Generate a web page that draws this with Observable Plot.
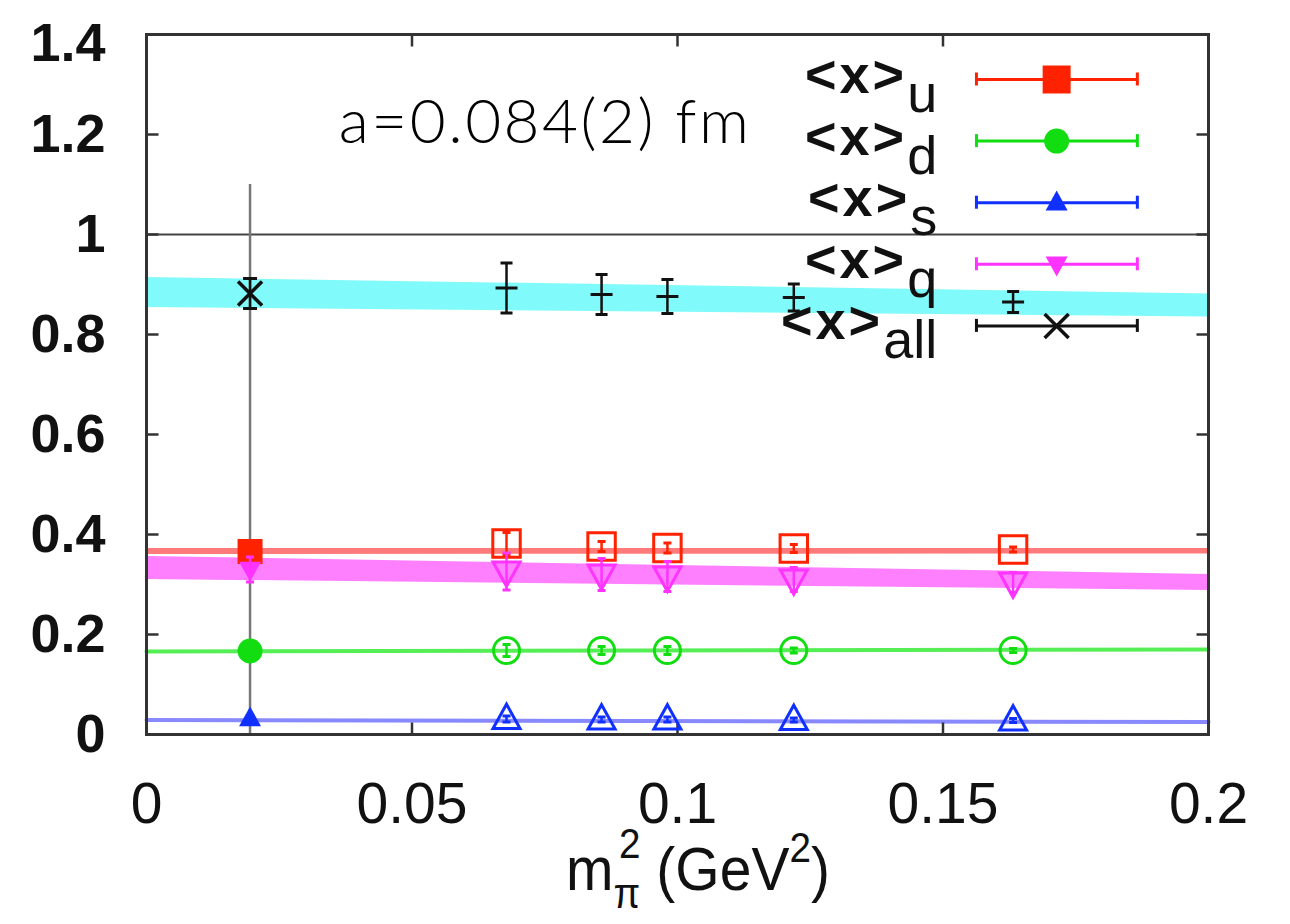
<!DOCTYPE html>
<html><head><meta charset="utf-8">
<script src="https://cdn.jsdelivr.net/npm/d3@7"></script>
<script src="https://cdn.jsdelivr.net/npm/@observablehq/plot@0.6"></script>
<style>
body{margin:0;background:#fff;}
#chart{width:1290px;height:924px;}
</style></head><body><div id="chart"></div>
<script>
// ---------------- data ----------------
const xPhys = 0.0195;
const xs = [0.0678, 0.0857, 0.0981, 0.1219, 0.1632];

const uVals = [0.382, 0.376, 0.373, 0.372, 0.370];
const uErrs = [0.022, 0.010, 0.010, 0.008, 0.005];
const uPhys = 0.366;

const dVals = [0.168, 0.168, 0.168, 0.168, 0.168];
const dErrs = [0.012, 0.008, 0.008, 0.005, 0.004];
const dPhys = 0.167;

const sVals = [0.031, 0.030, 0.030, 0.029, 0.028];
const sErrs = [0.006, 0.005, 0.005, 0.004, 0.004];
const sPhys = 0.032;

const qVals = [0.326, 0.320, 0.316, 0.310, 0.304];
const qErrs = [0.037, 0.032, 0.030, 0.024, 0.020];
const qPhys = 0.330, qPhysErr = 0.025;

const allVals = [0.893, 0.880, 0.876, 0.874, 0.865];
const allErrs = [0.050, 0.040, 0.034, 0.027, 0.021];
const allPhys = 0.882, allPhysErr = 0.030;

// fit curves at x = 0 and x = 0.2 : [low, high]
const fitX = [0, 0.2];
const uFit = [[0.360, 0.372], [0.361, 0.372]];
const dFit = [0.166, 0.170];
const sFit = [0.029, 0.025];
const qFit = [[0.310, 0.356], [0.288, 0.320]];
const allFit = [[0.854, 0.914], [0.835, 0.881]];

const xTicks = [0, 0.05, 0.1, 0.15, 0.2];
const xTickLabels = ["0", "0.05", "0.1", "0.15", "0.2"];
const yTicks = [0, 0.2, 0.4, 0.6, 0.8, 1, 1.2, 1.4];
const yTickLabels = ["0", "0.2", "0.4", "0.6", "0.8", "1", "1.2", "1.4"];

const legendSubs = ["u", "d", "s", "q", "all"];
const annotation = "a=0.084(2) fm";

// ---------------- styles ----------------
const cRed = "#ff2200", cGreen = "#11dd11", cBlue = "#1030ff", cMag = "#ff33ff", cBlack = "#111";

const sym = fn => ({draw(c, size) { const h = Math.sqrt(size / Math.PI); fn(c, h); }});
const symSquare = sym((c, h) => { c.moveTo(-h, -h); c.lineTo(h, -h); c.lineTo(h, h); c.lineTo(-h, h); c.closePath(); });
const symCircle = sym((c, h) => { c.moveTo(h, 0); c.arc(0, 0, h, 0, 2 * Math.PI); });
const symTriUp = sym((c, h) => { c.moveTo(0, -1.1 * h); c.lineTo(h, 0.7 * h); c.lineTo(-h, 0.7 * h); c.closePath(); });
const symTriDown = sym((c, h) => { c.moveTo(0, 1.1 * h); c.lineTo(h, -0.7 * h); c.lineTo(-h, -0.7 * h); c.closePath(); });
const symTimes = sym((c, h) => { c.moveTo(-h, -h); c.lineTo(h, h); c.moveTo(-h, h); c.lineTo(h, -h); });
const symHBar = sym((c, h) => { c.moveTo(-h, 0); c.lineTo(h, 0); });
const tickRight = sym((c, h) => { c.moveTo(0, 0); c.lineTo(2 * h, 0); });
const tickLeft = sym((c, h) => { c.moveTo(0, 0); c.lineTo(-2 * h, 0); });
const tickUp = sym((c, h) => { c.moveTo(0, 0); c.lineTo(0, -2 * h); });
const tickDown = sym((c, h) => { c.moveTo(0, 0); c.lineTo(0, 2 * h); });

const pts = (vals, errs) => xs.map((x, i) => ({x, y: vals[i], lo: vals[i] - errs[i], hi: vals[i] + errs[i]}));
const band = f => fitX.map((x, i) => ({x, lo: f[i][0], hi: f[i][1]}));
const line = f => fitX.map((x, i) => ({x, y: f[i]}));

function errMarks(data, color, capR, midR) {
  const m = [
    Plot.ruleX(data, {x: "x", y1: "lo", y2: "hi", stroke: color, strokeWidth: 2.5}),
    Plot.dot(data, {x: "x", y: "lo", symbol: symHBar, r: capR, stroke: color, strokeWidth: 3}),
    Plot.dot(data, {x: "x", y: "hi", symbol: symHBar, r: capR, stroke: color, strokeWidth: 3})
  ];
  if (midR) m.push(Plot.dot(data, {x: "x", y: "y", symbol: symHBar, r: midR, stroke: color, strokeWidth: 3}));
  return m;
}

// legend geometry (data units)
const legTop = 1.31, legStep = 0.1232, legX1 = 0.1563, legX2 = 0.1866, legXm = 0.1714;
const legendColors = [cRed, cGreen, cBlue, cMag, cBlack];
const legendSyms = [symSquare, symCircle, symTriUp, symTriDown, symTimes];
const legendR = [14, 12.5, 11, 11, 12];

const legendMarks = [];
legendSubs.forEach((s, i) => {
  const ly = legTop - i * legStep;
  const col = legendColors[i];
  legendMarks.push(
    Plot.link([ly], {x1: legX1, x2: legX2, y1: d => d, y2: d => d, stroke: col, strokeWidth: 3}),
    Plot.ruleX([legX1, legX2], {x: d => d, y1: ly - 0.013, y2: ly + 0.013, stroke: col, strokeWidth: 3}),
    i === 4
      ? Plot.dot([ly], {x: legXm, y: d => d, symbol: legendSyms[i], r: legendR[i], stroke: col, strokeWidth: 3.5})
      : Plot.dot([ly], {x: legXm, y: d => d, symbol: legendSyms[i], r: legendR[i], fill: col})
  );
});

const openR = 14;
const plot = Plot.plot({
  width: 1290, height: 924,
  marginLeft: 146, marginRight: 82, marginTop: 34, marginBottom: 190,
  x: {domain: [0, 0.2]},
  y: {domain: [0, 1.4]},
  marks: [
    Plot.areaY(band(allFit), {x: "x", y1: "lo", y2: "hi", fill: "#80fafa"}),
    Plot.areaY(band(qFit), {x: "x", y1: "lo", y2: "hi", fill: "#ff80ff"}),
    Plot.areaY(band(uFit), {x: "x", y1: "lo", y2: "hi", fill: "#ff7a7a"}),
    Plot.line(line(dFit), {x: "x", y: "y", stroke: "#55ee55", strokeWidth: 4}),
    Plot.line(line(sFit), {x: "x", y: "y", stroke: "#8888ff", strokeWidth: 4}),
    Plot.ruleY([1], {stroke: "#444", strokeWidth: 2}),
    Plot.ruleX([xPhys], {y1: 0, y2: 1.1, stroke: "#777", strokeWidth: 2.5}),
    Plot.frame({stroke: "#333", strokeWidth: 3}),
    // inward ticks
    Plot.dot(yTicks.slice(1, -1), {x: 0, y: d => d, symbol: tickRight, r: 6, stroke: "#333", strokeWidth: 2.5}),
    Plot.dot(yTicks.slice(1, -1), {x: 0.2, y: d => d, symbol: tickLeft, r: 6, stroke: "#333", strokeWidth: 2.5}),
    Plot.dot(xTicks.slice(1, -1), {x: d => d, y: 0, symbol: tickUp, r: 6, stroke: "#333", strokeWidth: 2.5}),
    Plot.dot(xTicks.slice(1, -1), {x: d => d, y: 1.4, symbol: tickDown, r: 6, stroke: "#333", strokeWidth: 2.5}),
    Plot.axisY({ticks: yTicks, tickSize: 0, tickPadding: 41, tickFormat: (d, i) => yTickLabels[i], label: null}),
    Plot.axisX({ticks: xTicks, tickSize: 0, tickPadding: 48, tickFormat: (d, i) => xTickLabels[i], label: null}),
    // open points with error bars
    ...errMarks(pts(uVals, uErrs), cRed, 4),
    Plot.dot(pts(uVals, uErrs), {x: "x", y: "y", symbol: symSquare, r: openR * 0.98, stroke: cRed, strokeWidth: 3}),
    ...errMarks(pts(dVals, dErrs), cGreen, 4),
    Plot.dot(pts(dVals, dErrs), {x: "x", y: "y", symbol: symCircle, r: 13, stroke: cGreen, strokeWidth: 3}),
    ...errMarks(pts(sVals, sErrs), cBlue, 4),
    Plot.dot(pts(sVals, sErrs), {x: "x", y: "y", symbol: symTriUp, r: 13.5, stroke: cBlue, strokeWidth: 3}),
    ...errMarks(pts(qVals, qErrs), cMag, 4),
    Plot.dot(pts(qVals, qErrs), {x: "x", y: "y", symbol: symTriDown, r: 13.5, stroke: cMag, strokeWidth: 3}),
    ...errMarks(pts(allVals, allErrs), cBlack, 6, 11),
    // physical point
    Plot.dot([uPhys], {x: xPhys, y: d => d, symbol: symSquare, r: 12.5, fill: cRed}),
    Plot.dot([dPhys], {x: xPhys, y: d => d, symbol: symCircle, r: 12.5, fill: cGreen}),
    Plot.dot([sPhys], {x: xPhys, y: d => d, symbol: symTriUp, r: 11, fill: cBlue}),
    ...errMarks([{x: xPhys, y: qPhys, lo: qPhys - qPhysErr, hi: qPhys + qPhysErr}], cMag, 4),
    Plot.dot([qPhys], {x: xPhys, y: d => d, symbol: symTriDown, r: 11, fill: cMag}),
    ...errMarks([{x: xPhys, y: allPhys, lo: allPhys - allPhysErr, hi: allPhys + allPhysErr}], cBlack, 7),
    Plot.dot([allPhys], {x: xPhys, y: d => d, symbol: symTimes, r: 12, stroke: cBlack, strokeWidth: 3.5}),
    // annotation
    Plot.text([annotation], {x: 0.0362, y: 1.222, text: d => d, textAnchor: "start", fontSize: 62, fontFamily: "Lato, 'Open Sans', sans-serif", fontWeight: 300, fill: "#000"}),
    ...legendMarks
  ]
});

document.getElementById("chart").appendChild(plot);

const svg = d3.select(plot);
svg.style("font-family", "'Liberation Sans', Arial, sans-serif").style("background", "#fff");
svg.select("g[aria-label='y-axis tick label']").attr("font-size", 54).attr("font-weight", "bold").attr("fill", "#111");
svg.selectAll("g[aria-label='y-axis tick label'] text")
  .filter(function() { return this.textContent === "1.4"; })
  .each(function() {
    const t = this.getAttribute("transform") || "";
    this.setAttribute("transform", (t + " translate(0,9)").trim());
  });
svg.select("g[aria-label='x-axis tick label']").attr("font-size", 57).attr("fill", "#111");
svg.selectAll("text").filter(function() { return this.textContent === annotation; }).style("letter-spacing", "2.5px");

// legend labels through the x / y scales
const sx = plot.scale("x"), sy = plot.scale("y");
legendSubs.forEach((s, i) => {
  const ly = legTop - i * legStep;
  const t = svg.append("text")
    .attr("x", sx.apply(0.149)).attr("y", sy.apply(ly) + 14)
    .attr("text-anchor", "end").attr("fill", "#111").attr("font-size", 54);
  t.append("tspan").attr("font-weight", "bold").style("letter-spacing", "3px").text("<x>");
  t.append("tspan").attr("dy", 19).text(s);
});

// x axis label
const xl = svg.append("text").attr("transform", "translate(566,890) scale(0.92,1)")
  .attr("text-anchor", "start").attr("font-size", 62).attr("fill", "#111");
xl.append("tspan").text("m");
xl.append("tspan").attr("dy", 18).attr("font-size", 42).text("π");
xl.append("tspan").attr("dx", -23).attr("dy", -50).attr("font-size", 42).text("2");
xl.append("tspan").attr("dy", 32).text(" (GeV");
xl.append("tspan").attr("dy", -28).attr("font-size", 42).text("2");
xl.append("tspan").attr("dy", 28).text(")");
</script>
</body></html>
